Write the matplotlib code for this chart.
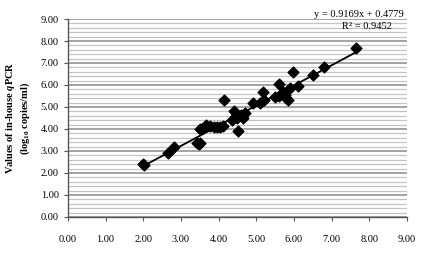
import numpy as np
import matplotlib.pyplot as plt
from matplotlib.ticker import MultipleLocator

# values (log10 copies/ml)
x_ref = [2.00, 2.02, 2.66, 2.81, 3.42, 3.48, 3.50, 3.50, 3.58, 3.66,
         3.78, 3.88, 3.97, 4.05, 4.12, 4.14, 4.35, 4.41, 4.45, 4.50,
         4.51, 4.60, 4.65, 4.70, 4.92, 5.10, 5.17, 5.20, 5.50, 5.60,
         5.60, 5.70, 5.76, 5.80, 5.83, 5.90, 5.97, 6.12, 6.51, 6.80,
         7.66]
y_qpcr = [2.41, 2.36, 2.90, 3.17, 3.38, 3.32, 3.35, 3.99, 4.05, 4.18,
          4.12, 4.10, 4.10, 4.10, 4.15, 5.32, 4.40, 4.82, 4.60, 4.50,
          3.91, 4.62, 4.50, 4.72, 5.18, 5.20, 5.68, 5.32, 5.47, 5.50,
          6.05, 5.70, 5.55, 5.40, 5.32, 5.85, 6.59, 5.97, 6.45, 6.83,
          7.70]

slope = 0.9169
intercept = 0.4779

plt.rcParams['font.family'] = ['Liberation Serif', 'DejaVu Serif']
plt.rcParams['mathtext.fontset'] = 'custom'
plt.rcParams['mathtext.rm'] = 'Liberation Serif:bold'
plt.rcParams['mathtext.it'] = 'Liberation Serif:italic:bold'
plt.rcParams['mathtext.bf'] = 'Liberation Serif:bold'

fig = plt.figure(figsize=(4.27, 2.57), dpi=100)
ax = fig.add_axes([0.159, 0.156, 0.794, 0.770])

# background grid: heavy lines every 1, light ones every 0.2
ax.yaxis.set_major_locator(MultipleLocator(1))
ax.yaxis.set_minor_locator(MultipleLocator(0.2))
ax.grid(axis='y', which='major', color='#8a8a8a', linewidth=1.1)
ax.grid(axis='y', which='minor', color='#c4c4c4', linewidth=0.9)
ax.set_axisbelow(True)

ax.scatter(x_ref, y_qpcr, marker='D', s=30, color='black', zorder=3)

xs = np.array([min(x_ref), max(x_ref)])
ax.plot(xs, slope * xs + intercept, color='black', linewidth=1.3, zorder=2)

ax.set_xlim(0, 9)
ax.set_ylim(0, 9)
ax.set_xticks(np.arange(0, 10))
ax.set_xticklabels(['%.2f' % v for v in range(10)])
ax.set_yticks(np.arange(0, 10))
ax.set_yticklabels(['%.2f' % v for v in range(10)])
ax.tick_params(axis='both', which='major', labelsize=7.5, length=3,
               color='#555555', width=0.8)
ax.tick_params(axis='y', which='minor', length=0)
ax.tick_params(axis='x', pad=10)

for side in ['top', 'right']:
    ax.spines[side].set_visible(False)
for side in ['left', 'bottom']:
    ax.spines[side].set_color('#555555')
    ax.spines[side].set_linewidth(1.0)

ax.set_ylabel('Values of in-house $q$PCR\n(log$_{10}$ copies/ml)',
              fontsize=7.5, fontweight='bold', labelpad=6)

ax.text(0.99, 1.0, 'y = 0.9169x + 0.4779', transform=ax.transAxes,
        ha='right', va='bottom', fontsize=7.5)
ax.text(0.955, 0.985, 'R² = 0.9452', transform=ax.transAxes,
        ha='right', va='top', fontsize=7.5)

fig.savefig('out.png', dpi=100)
